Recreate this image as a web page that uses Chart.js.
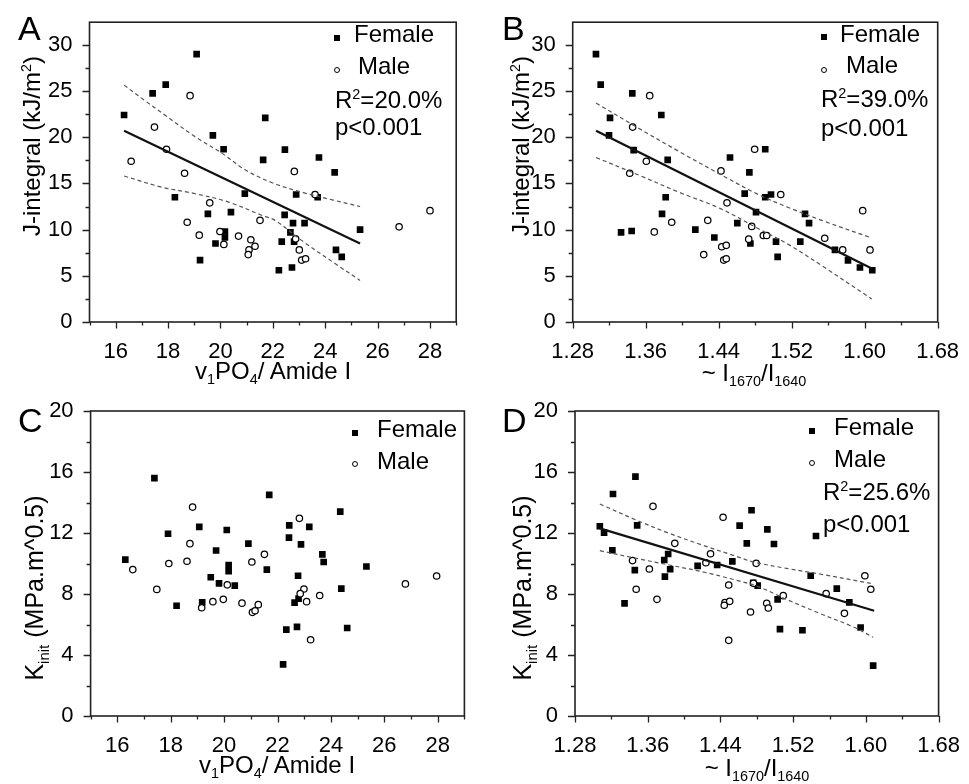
<!DOCTYPE html>
<html>
<head>
<meta charset="utf-8">
<script src="https://cdn.jsdelivr.net/npm/chart.js@4.4.1/dist/chart.umd.min.js"></script>
<style>
html,body{margin:0;padding:0;background:#fff;}
body{width:969px;height:784px;position:relative;overflow:hidden;font-family:"Liberation Sans",Arial,sans-serif;color:#000;}
canvas{position:absolute;left:0;top:0;}
.t{position:absolute;white-space:nowrap;line-height:1;}
.c{transform:translate(-50%,-50%);}
.r{transform:translate(-50%,-50%) rotate(-90deg);}
.l{transform:translateY(-50%);}
.sb{font-size:0.6em;position:relative;top:0.38em;}
.sp{font-size:0.6em;position:relative;top:-0.6em;}
.sq{position:absolute;width:6px;height:6px;background:#000;transform:translate(-50%,-50%);}
.ci{position:absolute;width:4px;height:4px;border:1.2px solid #000;border-radius:50%;background:#fff;transform:translate(-50%,-50%);}
.pl{position:absolute;font-size:34px;line-height:1;}
</style>
</head>
<body>
<canvas id="cA" width="969" height="784"></canvas>
<canvas id="cB" width="969" height="784"></canvas>
<canvas id="cC" width="969" height="784"></canvas>
<canvas id="cD" width="969" height="784"></canvas>

<!-- panel letters -->
<div class="pl" style="left:18px;top:11px;">A</div>
<div class="pl" style="left:502px;top:11px;">B</div>
<div class="pl" style="left:18px;top:403px;">C</div>
<div class="pl" style="left:502px;top:403px;">D</div>

<!-- axis titles -->
<div class="t r" style="left:32px;top:146px;font-size:24px;">J-integral (kJ/m<span class="sp">2</span>)</div>
<div class="t r" style="left:521px;top:146px;font-size:24px;">J-integral (kJ/m<span class="sp">2</span>)</div>
<div class="t r" style="left:34px;top:588px;font-size:25px;">K<span class="sb">init</span> (MPa.m^0.5)</div>
<div class="t r" style="left:522px;top:588px;font-size:25px;">K<span class="sb">init</span> (MPa.m^0.5)</div>
<div class="t c" style="left:273px;top:371px;font-size:24px;">v<span class="sb">1</span>PO<span class="sb">4</span>/ Amide I</div>
<div class="t c" style="left:754px;top:373px;font-size:24px;">~ I<span class="sb">1670</span>/I<span class="sb">1640</span></div>
<div class="t c" style="left:277px;top:765px;font-size:24px;">v<span class="sb">1</span>PO<span class="sb">4</span>/ Amide I</div>
<div class="t c" style="left:757px;top:768px;font-size:24px;">~ I<span class="sb">1670</span>/I<span class="sb">1640</span></div>

<!-- legends / stats A -->
<div class="sq" style="left:337px;top:37.5px;"></div>
<div class="t l" style="left:354px;top:34px;font-size:24px;">Female</div>
<div class="ci" style="left:337px;top:70px;"></div>
<div class="t l" style="left:358px;top:65.5px;font-size:24px;">Male</div>
<div class="t l" style="left:335px;top:99.5px;font-size:24px;">R<span class="sp">2</span>=20.0%</div>
<div class="t l" style="left:335px;top:127px;font-size:24px;">p&lt;0.001</div>
<!-- B -->
<div class="sq" style="left:823.5px;top:37px;"></div>
<div class="t l" style="left:840px;top:34px;font-size:24px;">Female</div>
<div class="ci" style="left:823.5px;top:70px;"></div>
<div class="t l" style="left:846px;top:65px;font-size:24px;">Male</div>
<div class="t l" style="left:821px;top:98.5px;font-size:24px;">R<span class="sp">2</span>=39.0%</div>
<div class="t l" style="left:821px;top:128px;font-size:24px;">p&lt;0.001</div>
<!-- C -->
<div class="sq" style="left:355px;top:433px;"></div>
<div class="t l" style="left:377px;top:429px;font-size:24px;">Female</div>
<div class="ci" style="left:355px;top:464px;"></div>
<div class="t l" style="left:377px;top:460.5px;font-size:24px;">Male</div>
<!-- D -->
<div class="sq" style="left:812px;top:431px;"></div>
<div class="t l" style="left:834px;top:427px;font-size:24px;">Female</div>
<div class="ci" style="left:812px;top:462.5px;"></div>
<div class="t l" style="left:834px;top:458.5px;font-size:24px;">Male</div>
<div class="t l" style="left:823px;top:492px;font-size:24px;">R<span class="sp">2</span>=25.6%</div>
<div class="t l" style="left:823px;top:523.5px;font-size:24px;">p&lt;0.001</div>

<script>
// ---------------- DATA ----------------
// tick labels
const xTicksV1 = [16, 18, 20, 22, 24, 26, 28];
const xTicksRatio = ['1.28', '1.36', '1.44', '1.52', '1.60', '1.68'];
const yTicksJ = [0, 5, 10, 15, 20, 25, 30];
const yTicksK = [0, 4, 8, 12, 16, 20];

// Panel A: J-integral vs v1PO4/Amide I
const aFemale = [[19.09,29.0],[17.91,25.7],[17.41,24.75],[16.32,22.4],[21.71,22.1],[19.71,20.2],[20.12,18.7],[21.63,17.55],[20.93,13.9],[18.26,13.5],[19.52,11.7],[20.40,11.9],[20.17,9.8],[20.17,9.15],[19.81,8.5],[19.22,6.7],
  [22.46,18.65],[23.76,17.8],[24.36,16.2],[22.89,13.8],[23.71,13.5],[22.45,11.6],[22.77,10.7],[23.21,10.7],[22.67,9.7],[22.34,8.7],[22.81,8.7],[24.41,7.8],[24.63,7.05],[22.23,5.6],[22.73,5.9],[25.33,10.0]];
const aMale = [[18.84,24.5],[17.48,21.1],[17.94,18.7],[16.59,17.4],[18.63,16.1],[19.59,12.9],[18.73,10.8],[21.51,11.0],[19.19,9.4],[19.98,9.8],[20.13,8.4],[20.69,9.3],[21.16,8.9],[21.32,8.2],[21.09,7.8],[21.06,7.3],
  [22.82,16.3],[23.61,13.8],[22.87,9.0],[23.01,7.8],[23.10,6.7],[23.25,6.85],[26.82,10.3],[28.0,12.05]];
const aFit = [[16.32,20.7],[25.33,8.5]];
const aUpper = [[16.32,25.64],[17.11,23.97],[17.94,22.27],[19.02,20.07],[20.04,18.3],[20.93,16.5],[21.95,15.1],[23.16,14.0],[24.3,13.2],[25.33,12.5]];
const aLower = [[16.32,15.8],[17.75,14.6],[19.02,13.9],[20.29,13.0],[21.57,11.56],[22.08,11.0],[23.16,8.7],[24.44,6.2],[25.33,4.5]];

// Panel B: J-integral vs I1670/I1640
const bFemale = [[1.3055,29.0],[1.3107,25.7],[1.3453,24.75],[1.3209,22.1],[1.3771,22.4],[1.3198,20.2],[1.3468,18.6],[1.3841,17.55],[1.3819,13.5],[1.3779,11.7],[1.333,9.7],[1.3446,9.85],[1.4144,10.0],[1.4352,9.15],[1.4524,17.8],[1.4736,16.2],[1.4685,13.9],[1.4809,11.9],[1.4604,10.7],[1.4747,8.5],
  [1.491,18.7],[1.491,13.5],[1.4973,13.8],[1.5346,11.7],[1.539,10.7],[1.5028,8.7],[1.5046,7.05],[1.5294,8.7],[1.5674,7.8],[1.5817,6.67],[1.5948,5.9],[1.6083,5.6]];
const bMale = [[1.3644,24.5],[1.3457,21.1],[1.3607,17.4],[1.3425,16.1],[1.3885,10.8],[1.3694,9.75],[1.4794,18.7],[1.4425,16.35],[1.4491,12.9],[1.428,11.0],[1.4762,10.35],[1.4729,8.97],[1.4433,8.15],[1.4483,8.3],[1.4236,7.3],[1.4455,6.7],[1.4483,6.85],
  [1.508,13.8],[1.5978,12.05],[1.4889,9.36],[1.4926,9.36],[1.5562,9.07],[1.5759,7.8],[1.6058,7.8]];
const bFit = [[1.3056,20.7],[1.6077,5.8]];
const bUpper = [[1.3056,23.7],[1.35,21.1],[1.3976,18.4],[1.4414,16.0],[1.4834,13.8],[1.5163,12.4],[1.5529,11.0],[1.6077,9.1]];
const bLower = [[1.3056,17.8],[1.35,16.0],[1.3976,14.0],[1.4414,12.3],[1.4834,10.1],[1.5163,8.4],[1.5529,6.1],[1.6077,2.5]];

// Panel C: Kinit vs v1PO4/Amide I
const cFemale = [[17.39,15.6],[21.69,14.5],[19.07,12.4],[20.10,12.2],[17.90,11.95],[20.91,11.3],[19.70,10.85],[16.30,10.25],[20.17,9.9],[20.17,9.5],[21.60,9.6],[19.50,9.1],[19.81,8.7],[20.40,8.55],[18.22,7.23],[19.18,7.45],
  [24.35,13.4],[22.44,12.5],[23.19,12.4],[22.43,11.7],[22.88,11.25],[23.68,10.6],[23.73,10.1],[25.33,9.8],[22.77,9.2],[24.39,8.35],[22.79,7.7],[22.64,7.43],[22.33,5.66],[22.73,5.84],[24.61,5.77],[22.21,3.39]];
const cMale = [[18.82,13.7],[18.72,11.3],[21.51,10.6],[17.93,10.0],[18.61,10.15],[21.04,10.1],[16.58,9.6],[20.12,8.6],[17.48,8.3],[19.16,7.1],[19.58,7.5],[19.97,7.65],[20.67,7.4],[21.28,7.3],[21.06,6.8],[21.16,6.9],
  [22.82,12.96],[22.99,8.33],[22.85,8.02],[23.09,7.5],[23.58,7.9],[23.24,5.0],[26.79,8.66],[27.96,9.18]];

// Panel D: Kinit vs I1670/I1640
const dFemale = [[1.3465,15.7],[1.3218,14.56],[1.3073,12.44],[1.312,12.02],[1.3484,12.5],[1.3211,10.87],[1.3458,9.57],[1.3345,7.39],[1.3825,10.62],[1.3782,10.23],[1.3847,9.62],[1.3789,9.14],[1.4149,9.84],[1.4364,9.9],[1.4531,10.14],[1.4742,13.49],[1.4611,12.48],[1.469,11.32],[1.476,8.74],[1.481,8.55],
  [1.4916,12.24],[1.4989,11.28],[1.5451,11.8],[1.5393,9.2],[1.5029,7.65],[1.568,8.35],[1.5818,7.45],[1.5055,5.7],[1.5302,5.62],[1.5942,5.8],[1.608,3.3]];
const dMale = [[1.3658,13.75],[1.3898,11.32],[1.3433,10.19],[1.3618,9.64],[1.3473,8.31],[1.3702,7.65],[1.4429,13.03],[1.4291,10.64],[1.424,10.05],[1.4793,10.01],[1.4491,8.59],[1.445,7.43],[1.4502,7.52],[1.4442,7.26],[1.4731,6.82],[1.4491,4.96],[1.4764,8.7],
  [1.5091,7.89],[1.4909,7.39],[1.4927,7.08],[1.5563,8.02],[1.5764,6.73],[1.5989,9.2],[1.6054,8.31]];
const dFit = [[1.3073,12.3],[1.6091,6.9]];
const dUpper = [[1.3073,13.9],[1.3473,12.85],[1.3836,11.98],[1.42,11.21],[1.4564,10.49],[1.4764,10.1],[1.5127,9.68],[1.5491,9.31],[1.6054,8.7]];
const dLower = [[1.3073,10.84],[1.3473,10.34],[1.3836,9.9],[1.42,9.46],[1.4564,8.92],[1.4818,8.48],[1.5127,7.65],[1.5491,6.73],[1.5855,5.86],[1.608,5.16]];

// ---------------- RENDERING ----------------
const W = 969, H = 784;
const FONT = "'Liberation Sans', Arial, sans-serif";
const pts = a => a.map(p => ({x: p[0], y: p[1]}));

const frameTicks = {
  id: 'frameTicks',
  afterDraw(chart) {
    const {ctx, chartArea: a, scales: {x, y}} = chart;
    ctx.save();
    ctx.strokeStyle = '#222';
    ctx.lineWidth = 1.3;
    ctx.beginPath();
    x.ticks.forEach(t => {
      if (t.value < x.min - 1e-9 || t.value > x.max + 1e-9) return;
      const p = Math.round(x.getPixelForValue(t.value)) + 0.5;
      const len = t.label !== '' ? 6.5 : 3.5;
      ctx.moveTo(p, a.bottom); ctx.lineTo(p, a.bottom + len);
    });
    y.ticks.forEach(t => {
      if (t.value < y.min - 1e-9 || t.value > y.max + 1e-9) return;
      const p = Math.round(y.getPixelForValue(t.value)) + 0.5;
      const len = t.label !== '' ? 7 : 4;
      ctx.moveTo(a.left, p); ctx.lineTo(a.left - len, p);
    });
    ctx.stroke();
    ctx.lineWidth = 1.6;
    ctx.strokeRect(a.left, a.top, a.right - a.left, a.bottom - a.top);
    ctx.restore();
  }
};

function femaleSet(d) {
  return {data: pts(d), pointStyle: 'rect', pointRadius: 4.7, backgroundColor: '#000', borderColor: '#000', borderWidth: 0, order: 2};
}
function maleSet(d) {
  return {data: pts(d), pointStyle: 'circle', pointRadius: 3.2, backgroundColor: '#fff', borderColor: '#000', borderWidth: 1.25, order: 1};
}
function fitSet(d) {
  return {data: pts(d), showLine: true, pointRadius: 0, borderColor: '#111', borderWidth: 2.2, order: 0};
}
function ciSet(d) {
  return {data: pts(d), showLine: true, pointRadius: 0, borderColor: '#555', borderWidth: 1.2, borderDash: [4, 3], tension: 0.35, order: 0};
}

function matchLabel(list, v, dec) {
  for (const l of list) {
    if (Math.abs(Number(l) - v) < 1e-6) return dec ? Number(l).toFixed(dec) : String(l);
  }
  return '';
}

function build(id, area, xs, ys, datasets) {
  const YW = 60, XH = 50;
  return new Chart(document.getElementById(id), {
    type: 'scatter',
    data: {datasets},
    options: {
      responsive: false,
      animation: false,
      events: [],
      layout: {padding: {left: area.l - YW, right: W - area.r, top: area.t, bottom: H - area.b - XH}},
      plugins: {legend: {display: false}, tooltip: {enabled: false}},
      scales: {
        x: {
          type: 'linear', position: 'bottom', min: xs.min, max: xs.max,
          grid: {display: false}, border: {display: false},
          afterFit: s => { s.height = XH; },
          ticks: {stepSize: xs.step, autoSkip: false, includeBounds: false, maxRotation: 0, minRotation: 0,
                  padding: 9, color: '#000', font: {family: FONT, size: 22},
                  callback: v => matchLabel(xs.labels, v, xs.dec)}
        },
        y: {
          type: 'linear', position: 'left', min: ys.min, max: ys.max,
          grid: {display: false}, border: {display: false},
          afterFit: s => { s.width = YW; },
          ticks: {stepSize: ys.step, autoSkip: false, includeBounds: false,
                  padding: 9, color: '#000', font: {family: FONT, size: 22},
                  callback: v => matchLabel(ys.labels, v, 0)}
        }
      }
    },
    plugins: [frameTicks]
  });
}

const xV1A = {min: 15, max: 29, step: 1, labels: xTicksV1, dec: 0};
const xRat = {min: 1.28, max: 1.68, step: 0.04, labels: xTicksRatio, dec: 2};
const yJ = {min: 0, max: 32.45, step: 2.5, labels: yTicksJ};
const yK = {min: 0, max: 20, step: 2, labels: yTicksK};

build('cA', {l: 89.5, r: 456.2, t: 17, b: 322}, xV1A, yJ,
  [fitSet(aFit), ciSet(aUpper), ciSet(aLower), maleSet(aMale), femaleSet(aFemale)]);
build('cB', {l: 572.7, r: 937.7, t: 17, b: 322}, xRat, yJ,
  [fitSet(bFit), ciSet(bUpper), ciSet(bLower), maleSet(bMale), femaleSet(bFemale)]);
build('cC', {l: 90.6, r: 464.4, t: 411, b: 716}, xV1A, yK,
  [maleSet(cMale), femaleSet(cFemale)]);
build('cD', {l: 575, r: 941.7, t: 411, b: 716}, xRat, yK,
  [fitSet(dFit), ciSet(dUpper), ciSet(dLower), maleSet(dMale), femaleSet(dFemale)]);
</script>
</body>
</html>
